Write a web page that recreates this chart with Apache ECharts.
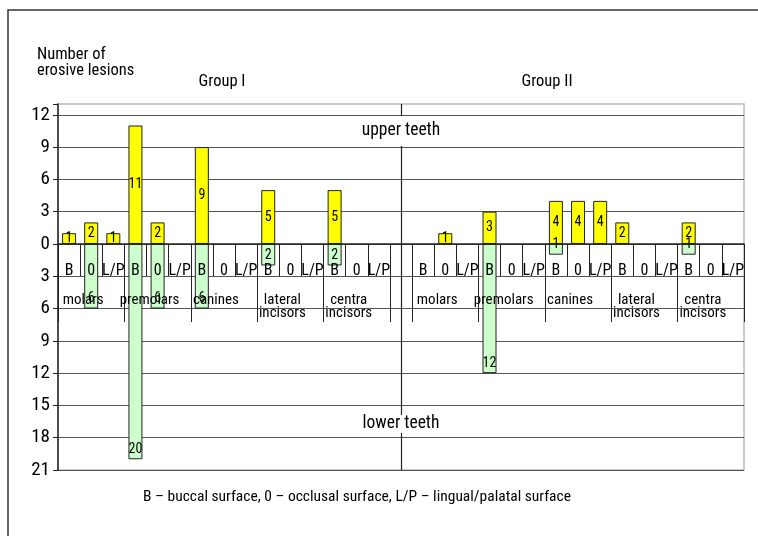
<!DOCTYPE html>
<html><head><meta charset="utf-8">
<script src="https://cdn.jsdelivr.net/npm/echarts@6/dist/echarts.min.js"></script>
<style>html,body{margin:0;padding:0;background:#fff}#c{width:758px;height:536px}</style>
</head><body><div id="c"></div>
<script>
// ---- data ----
const groups = ['Group I', 'Group II'];
const toothTypes = ['molars', 'premolars', 'canines', 'lateral\nincisors', 'centra\nincisors'];
const surfaces = ['B', '0', 'L/P'];
// upper teeth (yellow), per tooth type: B, 0, L/P
const upperGroupI  = [1, 2, 1,  11, 2, 0,  9, 0, 0,  5, 0, 0,  5, 0, 0];
const upperGroupII = [0, 1, 0,  3, 0, 0,   4, 4, 4,  2, 0, 0,  2, 0, 0];
// lower teeth (green)
const lowerGroupI  = [0, 6, 0,  20, 6, 0,  6, 0, 0,  2, 0, 0,  2, 0, 0];
const lowerGroupII = [0, 0, 0,  12, 0, 0,  1, 0, 0,  0, 0, 0,  1, 0, 0];
const yMin = -21, yMax = 13, yStep = 3;
const caption = 'B \u2013 buccal surface, 0 \u2013 occlusal surface, L/P \u2013 lingual/palatal surface';

// ---- build categories ----
const GAP = 'gap';
const keys = [];
groups.forEach((g, gi) => {
  if (gi > 0) keys.push(GAP);
  toothTypes.forEach((t, ti) => surfaces.forEach(s => keys.push(g + '|' + ti + '|' + s)));
});
const upperAll = upperGroupI.concat([null], upperGroupII);
const lowerAll = lowerGroupI.concat([null], lowerGroupII);
const upperData = upperAll.map(v => (v ? v : '-'));
const lowerData = lowerAll.map(v => (v ? -v : '-'));

const FONT = "'Roboto Condensed','DejaVu Sans Condensed',sans-serif";
const DARK = '#222';

const chart = echarts.init(document.getElementById('c'), null, {renderer: 'canvas'});
chart.setOption({
  animation: false,
  backgroundColor: '#fff',
  textStyle: {fontFamily: FONT},
  grid: {left: 58, right: 14, top: 104, bottom: 66, show: true, borderColor: '#bbb', borderWidth: 1.5},
  xAxis: [
    {
      type: 'category', data: keys, position: 'bottom', offset: -226, z: 5,
      axisLine: {show: true, onZero: false, lineStyle: {color: DARK, width: 1.5}},
      axisTick: {show: true, interval: 0, length: 32, lineStyle: {color: DARK}},
      axisLabel: {interval: 0, margin: 19, fontSize: 16, color: '#000', fontFamily: FONT,
        formatter: v => (v === GAP ? '' : v.split('|')[2])},
      splitLine: {show: false}
    },
    {
      type: 'category', data: keys, position: 'bottom', offset: -194, z: 5,
      axisLine: {show: false, onZero: false},
      axisTick: {show: true, length: 46, lineStyle: {color: DARK},
        interval: (i, v) => v === GAP || v.split('|')[2] === surfaces[0]},
      axisLabel: {interval: 0, margin: 18, fontSize: 15, lineHeight: 13, color: '#000', fontFamily: FONT,
        padding: [0, 16, 0, 0],
        formatter: v => {
          if (v === GAP) return '';
          const p = v.split('|');
          return p[2] === surfaces[1] ? toothTypes[+p[1]] : '';
        }},
      splitLine: {show: false}
    }
  ],
  yAxis: {
    type: 'value', min: yMin, max: yMax, interval: yStep,
    axisLine: {show: true, lineStyle: {color: DARK, width: 1.5}},
    axisTick: {show: true, length: 5, lineStyle: {color: DARK}},
    axisLabel: {fontSize: 19, color: '#000', margin: 8, fontFamily: FONT,
      formatter: v => (v === yMax ? '' : String(Math.abs(v)))},
    splitLine: {show: true, showMaxLine: false, lineStyle: {color: '#555', width: 1.2}}
  },
  series: [
    {
      name: 'upper', type: 'bar', xAxisIndex: 0, data: upperData, barWidth: 14, barGap: '-100%',
      itemStyle: {color: '#FFFF00', borderColor: DARK, borderWidth: 1},
      label: {show: true, position: 'inside', fontSize: 14, color: '#000', fontFamily: FONT},
      markLine: {
        silent: true, symbol: 'none', label: {show: false},
        lineStyle: {color: DARK, type: 'solid', width: 1.2},
        data: [{xAxis: GAP}]
      }
    },
    {
      name: 'lower', type: 'bar', xAxisIndex: 0, data: lowerData, barWidth: 14, barGap: '-100%',
      itemStyle: {color: '#CCFFCC', borderColor: DARK, borderWidth: 1},
      label: {show: true, position: 'insideBottom', distance: 3, fontSize: 14, color: '#000', fontFamily: FONT,
        formatter: p => String(Math.abs(p.value))}
    }
  ],
  graphic: [
    {type: 'rect', z: 100, silent: true, shape: {x: 8, y: 10, width: 800, height: 600},
     style: {fill: 'none', stroke: '#333', lineWidth: 1.5}},
    {type: 'text', z: 100, x: 37, y: 47, style: {text: 'Number of\nerosive lesions', fontSize: 16.5, lineHeight: 16,
      fontFamily: FONT, fill: '#000', align: 'left', verticalAlign: 'top'}},
    {type: 'text', z: 100, x: 222, y: 82, style: {text: groups[0], fontSize: 16.5, fontFamily: FONT, fill: '#000',
      align: 'center', verticalAlign: 'middle'}},
    {type: 'text', z: 100, x: 547, y: 82, style: {text: groups[1], fontSize: 16.5, fontFamily: FONT, fill: '#000',
      align: 'center', verticalAlign: 'middle'}},
    {type: 'text', z: 100, x: 401, y: 131, style: {text: 'upper teeth', fontSize: 17.5, fontFamily: FONT, fill: '#000',
      align: 'center', verticalAlign: 'middle', backgroundColor: '#fff', padding: [6, 2, 6, 2]}},
    {type: 'text', z: 100, x: 401, y: 424, style: {text: 'lower teeth', fontSize: 17.5, fontFamily: FONT, fill: '#000',
      align: 'center', verticalAlign: 'middle', backgroundColor: '#fff', padding: [0, 2, 0, 2]}},
    {type: 'text', z: 100, x: 357, y: 497, style: {text: caption, fontSize: 15.5, fontFamily: FONT, fill: '#000',
      align: 'center', verticalAlign: 'middle'}}
  ]
});
</script></body></html>
